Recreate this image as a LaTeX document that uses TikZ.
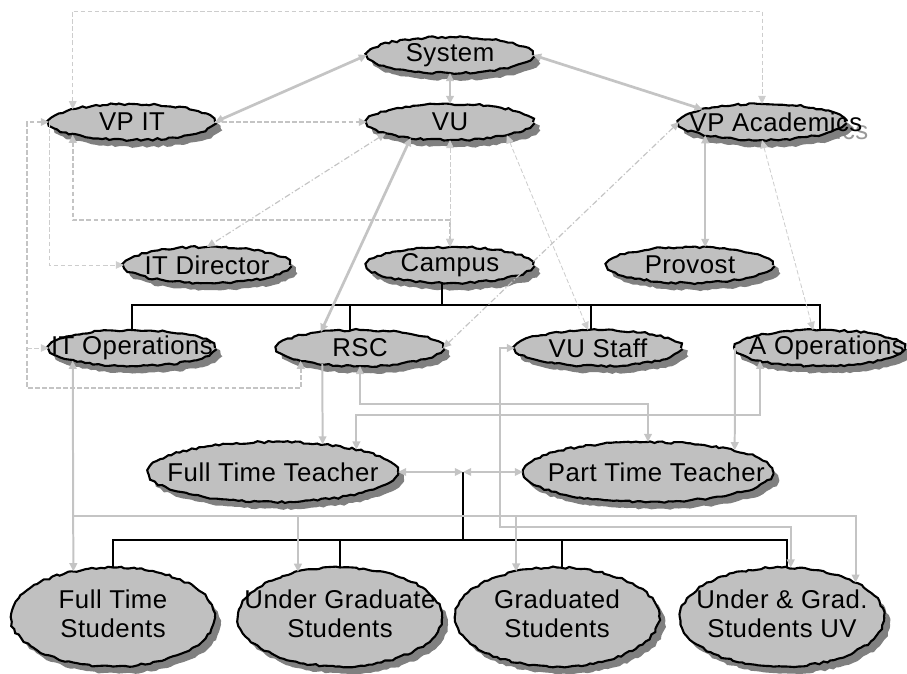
\documentclass[tikz,border=0pt]{standalone}
\usepackage{fontspec}
\setmainfont{Liberation Sans}[LetterSpace=2]
\usetikzlibrary{shapes.geometric,shadows,decorations.pathmorphing,arrows.meta}
\definecolor{nodegray}{HTML}{C0C0C0}
\definecolor{shadowgray}{HTML}{808080}
\definecolor{linkgray}{HTML}{C4C4C4}
\definecolor{ghostgray}{HTML}{999999}
\newcommand{\ctext}[1]{\makebox[0pt]{#1}}
\tikzset{
  >={Triangle[length=7pt,width=6.5pt]},
  unit/.style={ellipse, draw, line width=1.8pt, fill=nodegray, inner sep=0pt, outer sep=0pt,
    decorate, decoration={random steps,segment length=3.5pt,amplitude=0.9pt},
    drop shadow={shadow xshift=5pt,shadow yshift=-6pt,fill=shadowgray,opacity=1},
    minimum width=4.98cm, minimum height=1.08cm, font=\fontsize{22}{25.5}\selectfont},
  teacher/.style={unit, minimum width=7.5cm, minimum height=1.8cm},
  student/.style={unit, minimum width=6.12cm, minimum height=2.97cm},
  ghost/.style={text=ghostgray, inner sep=0pt, font=\fontsize{22}{25.5}\selectfont},
  tree/.style={draw=black, line width=1.3pt},
  link/.style={draw=linkgray, line width=1.7pt},
  dlink/.style={draw=linkgray, line width=1.5pt, dash pattern=on 4pt off 2pt},
  tlink/.style={draw=linkgray!85, line width=0.7pt, dash pattern=on 4pt off 2pt},
  dotlink/.style={draw=linkgray, line width=1pt, dash pattern=on 5pt off 2pt on 1pt off 2pt}
}
\pgfmathsetseed{7}
\begin{document}
\begin{tikzpicture}[x=0.03cm, y=-0.03cm]
  \useasboundingbox (0,0) rectangle (907,673);

  % shadows of the text that runs out of its ellipse
  \node[ghost] (vpac-ghost) at (782,130) {VP Academics};
  \node[ghost] (itops-ghost) at (138,356) {IT Operations};

  % units
  \node[unit] (sys) at (450,55) {\ctext{System}};
  \node[unit] (vpit) at (132,122) {\ctext{VP IT}};
  \node[unit] (vu) at (450,122) {\ctext{VU}};
  \node[unit] (vpac) at (762,122) {\ctext{\hspace{0.84cm}VP Academics}};
  \node[unit] (itdir) at (207,265) {\ctext{IT Director}};
  \node[unit] (campus) at (450,265) {\ctext{Campus}};
  \node[unit] (provost) at (690,265) {\ctext{Provost}};
  \node[unit] (itops) at (132,348) {\ctext{IT Operations}};
  \node[unit] (rsc) at (360,348) {\ctext{RSC}};
  \node[unit] (vustaff) at (598,348) {\ctext{VU Staff}};
  \node[unit, minimum width=5.1cm] (aops) at (820,348) {\ctext{\hspace{0.42cm}A Operations}};
  \node[teacher] (ftt) at (273,472) {\ctext{Full Time Teacher}};
  \node[teacher] (ptt) at (648,472) {\ctext{\hspace{0.5cm}Part Time Teacher}};
  \node[student] (fts) at (113,617) {\ctext{\begin{tabular}{@{}c@{}}Full Time\\Students\end{tabular}}};
  \node[student] (ugs) at (340,617) {\ctext{\begin{tabular}{@{}c@{}}Under Graduate\\Students\end{tabular}}};
  \node[student] (gs) at (557,617) {\ctext{\begin{tabular}{@{}c@{}}Graduated\\Students\end{tabular}}};
  \node[student] (ugsuv) at (782,617) {\ctext{\begin{tabular}{@{}c@{}}Under \& Grad.\\Students UV\end{tabular}}};

  % routing levels
  \coordinate (ytop) at (0,11);
  \coordinate (ymid) at (0,220);
  \coordinate (xleft) at (27,0);
  \coordinate (ybus) at (0,305);
  \coordinate (ybot) at (0,388);
  \coordinate (yrsc) at (0,404);
  \coordinate (yaop) at (0,415);
  \coordinate (ystu) at (0,516);
  \coordinate (yuv) at (0,527);
  \coordinate (xuv) at (500,0);
  \coordinate (ysbus) at (0,540);
  \coordinate (tj) at (463,472);

  % hierarchy
  \draw[tree] (campus.-114) -- (campus.-114 |- ybus);
  \draw[tree] (itops.north) -- (itops.north |- ybus) -| (aops.north);
  \draw[tree] (rsc.119) -- (rsc.119 |- ybus);
  \draw[tree] (vustaff.111) -- (vustaff.111 |- ybus);
  \draw[tree] (tj) -- (tj |- ysbus);
  \draw[tree] (fts.north) -- (fts.north |- ysbus) -| (ugsuv.84);
  \draw[tree] (ugs.north) -- (ugs.north |- ysbus);
  \draw[tree] (gs.84) -- (gs.84 |- ysbus);

  % solid links
  \draw[link, line width=2.3pt, <->] (vpit.east) -- (sys.west);
  \draw[link, <->] (sys.south) -- (vu.north);
  \draw[link, line width=2.3pt, <->] (sys.east) -- (vpac.168);
  \draw[link, line width=2.3pt, <->] (vu.202) -- (rsc.158);
  \draw[link, <->] (vpac.193) -- (vpac.193 |- provost.north);

  % dashed links
  \draw[dlink, ->] (vpit.east) -- (vu.west);
  \draw[tlink, <->] (vpit.168) -- (vpit.168 |- ytop) -| (vpac.north);
  \draw[dlink, <->] (vpit.192) -- (vpit.192 |- ymid) -| (campus.north);
  \draw[tlink, <->] (vu.south) -- (campus.north);
  \draw[dlink, <->] (vpit.west) -- (vpit.west -| xleft) -- (xleft |- ybot) -| (rsc.192);
  \draw[tlink, ->] (itops.west -| xleft) -- (itops.west);
  \draw[tlink, ->] (vpit.west) |- (itdir.west);
  \draw[dotlink, <->] (vu.190) -- (itdir.north);
  \draw[tlink, <->] (vu.-13) -- (vustaff.119);
  \draw[dotlink, <->] (rsc.east) -- (vpac.west);
  \draw[tlink, <->] (vpac.south) -- (aops.111);

  % teachers and students
  \draw[link, line width=1.2pt, <->] (ftt.east) -- (tj);
  \draw[link, line width=1.2pt, <->] (tj) -- (ptt.west);
  \draw[link, ->] (rsc.203) -- (ftt.29);
  \draw[link, <->] (rsc.south) -- (rsc.south |- yrsc) -| (ptt.north);
  \draw[link, <->] (aops.192) -- (aops.192 |- yaop) -| (ftt.15);
  \draw[link, ->] (aops.west) -- (ptt.14);
  \draw[link, <->] (itops.192) -- (fts.131);
  \draw[link, ->] (itops.192 |- ystu) -| (ugsuv.25);
  \draw[link, ->] (ugs.133 |- ystu) -- (ugs.133);
  \draw[link, ->] (gs.132 |- ystu) -- (gs.132);
  \draw[link, <->] (vustaff.west) -- (vustaff.west -| xuv) -- (xuv |- yuv) -| (ugsuv.80);
\end{tikzpicture}
\end{document}
